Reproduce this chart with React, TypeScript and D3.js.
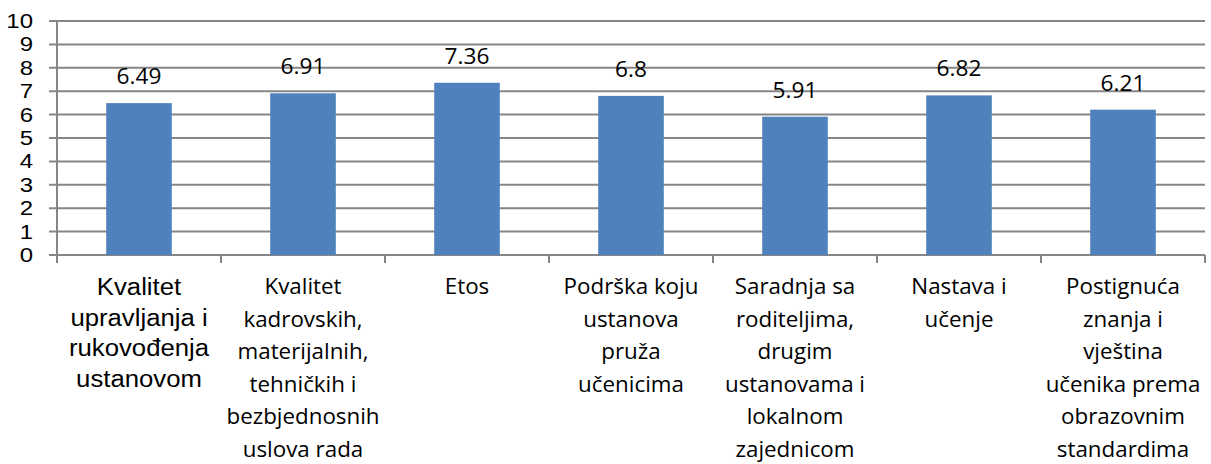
import { useCallback, useEffect, useRef } from "react";
import * as d3 from "d3";

const categories = [
  ["Kvalitet", "upravljanja i", "rukovođenja", "ustanovom"],
  ["Kvalitet", "kadrovskih,", "materijalnih,", "tehničkih i", "bezbjednosnih", "uslova rada"],
  ["Etos"],
  ["Podrška koju", "ustanova", "pruža", "učenicima"],
  ["Saradnja sa", "roditeljima,", "drugim", "ustanovama i", "lokalnom", "zajednicom"],
  ["Nastava i", "učenje"],
  ["Postignuća", "znanja i", "vještina", "učenika prema", "obrazovnim", "standardima"],
];
const values = [6.49, 6.91, 7.36, 6.8, 5.91, 6.82, 6.21];
const valueLabels = ["6.49", "6.91", "7.36", "6.8", "5.91", "6.82", "6.21"];
const yTicks = [0, 1, 2, 3, 4, 5, 6, 7, 8, 9, 10];

const width = 1211;
const height = 464;

const App = () => {
  const svgRef = useRef(null);

  const renderGraph = useCallback((svgEl) => {
    const svg = d3.select(svgEl);
    svg.selectAll("*").remove();

    const margin = { top: 21, right: 6, bottom: 209, left: 57 };
    const grid = "#868686";
    const arial = "'Liberation Sans', Arial, sans-serif";
    const calibri = "'Open Sans', sans-serif";

    const x = d3
      .scaleBand()
      .domain(d3.range(values.length))
      .range([margin.left, width - margin.right])
      .paddingInner(0.6)
      .paddingOuter(0.3);

    const y = d3
      .scaleLinear()
      .domain([0, 10])
      .range([height - margin.bottom, margin.top]);

    const step = x.step();
    const x0 = margin.left;
    const x1 = width - margin.right;

    // gridlines + left ticks
    svg
      .append("g")
      .selectAll("line")
      .data(yTicks)
      .join("line")
      .attr("x1", x0 - 8)
      .attr("x2", x1)
      .attr("y1", (d) => y(d))
      .attr("y2", (d) => y(d))
      .attr("stroke", grid)
      .attr("stroke-width", 2);

    // y axis line
    svg
      .append("line")
      .attr("x1", x0)
      .attr("x2", x0)
      .attr("y1", y(10))
      .attr("y2", y(0) + 8)
      .attr("stroke", grid)
      .attr("stroke-width", 2);

    // category ticks
    svg
      .append("g")
      .selectAll("line")
      .data(d3.range(values.length + 1))
      .join("line")
      .attr("x1", (i) => x0 + i * step)
      .attr("x2", (i) => x0 + i * step)
      .attr("y1", y(0))
      .attr("y2", y(0) + 8)
      .attr("stroke", grid)
      .attr("stroke-width", 2);

    // y labels
    svg
      .append("g")
      .selectAll("text")
      .data(yTicks)
      .join("text")
      .attr("transform", (d) => `translate(33,${y(d) + 7}) scale(1.23,1)`)
      .attr("text-anchor", "end")
      .attr("font-family", arial)
      .attr("font-size", 19.5)
      .attr("fill", "#000")
      .text((d) => d);

    // bars
    svg
      .append("g")
      .attr("fill", "#4F81BD")
      .selectAll("rect")
      .data(values)
      .join("rect")
      .attr("x", (d, i) => x(i))
      .attr("y", (d) => y(d))
      .attr("width", x.bandwidth())
      .attr("height", (d) => y(0) - y(d));

    // value labels
    svg
      .append("g")
      .selectAll("text")
      .data(values)
      .join("text")
      .attr(
        "transform",
        (d, i) => `translate(${x(i) + x.bandwidth() / 2},${y(d) - 19}) scale(1.08,1)`
      )
      .attr("text-anchor", "middle")
      .attr("font-family", calibri)
      .attr("font-size", 21)
      .attr("fill", "#000")
      .text((d, i) => valueLabels[i]);

    // category labels (first one is in Arial, the rest Calibri-like)
    categories.forEach((lines, i) => {
      const cx = x(i) + x.bandwidth() / 2;
      const first = i === 0;
      const lh = first ? 30.6 : 32.5;
      lines.forEach((line, j) => {
        svg
          .append("text")
          .attr(
            "transform",
            `translate(${cx},${(first ? 295 : 294) + j * lh}) scale(${first ? 1.05 : 1.04},1)`
          )
          .attr("text-anchor", "middle")
          .attr("font-family", first ? arial : calibri)
          .attr("font-size", first ? 24.5 : 21.5)
          .attr("fill", "#000")
          .text(line);
      });
    });
  }, []);

  useEffect(() => {
    renderGraph(svgRef.current);
  }, [renderGraph]);

  return (
    <svg
      ref={svgRef}
      width={width}
      height={height}
      style={{ position: "absolute", left: 0, top: 0, background: "#fff" }}
    />
  );
};

export default App;
